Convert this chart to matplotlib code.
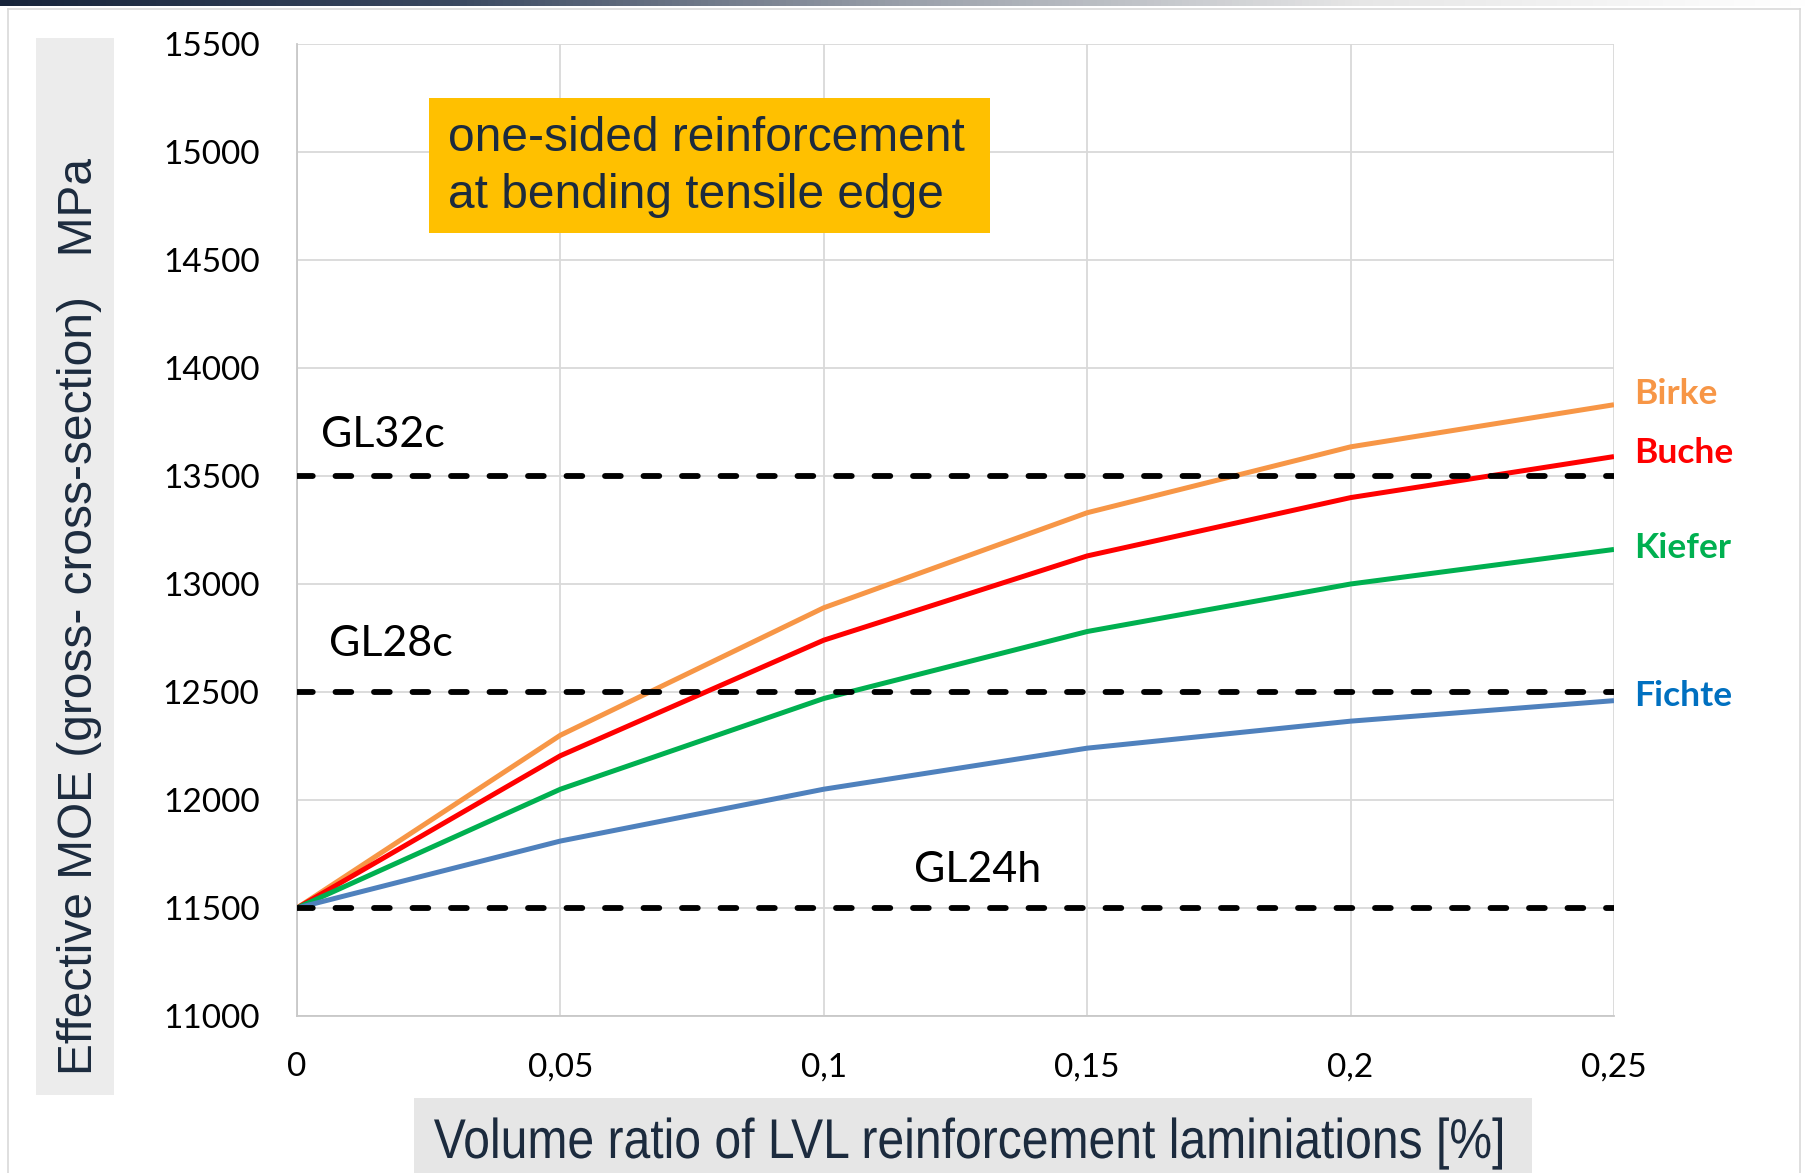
import numpy as np
from matplotlib import pyplot as plt
from matplotlib.colors import LinearSegmentedColormap
from matplotlib.font_manager import FontProperties
from matplotlib.lines import Line2D
from matplotlib.patches import PathPatch, Rectangle
from matplotlib.textpath import TextPath
from matplotlib.transforms import Affine2D

ratio = [0, 0.05, 0.1, 0.15, 0.2, 0.25]
birke = [11500, 12300, 12890, 13330, 13635, 13830]
buche = [11500, 12205, 12740, 13130, 13400, 13590]
kiefer = [11500, 12050, 12470, 12780, 13000, 13160]
fichte = [11500, 11810, 12050, 12240, 12365, 12460]
species = ["Birke", "Buche", "Kiefer", "Fichte"]
label_y = [13880, 13605, 13165, 12480]

grades = ["GL32c", "GL28c", "GL24h"]
grade_moe = [13500, 12500, 11500]
grade_label_pos = [(0.0045, 13690), (0.006, 12720), (0.1172, 11675)]

xticks = [0, 0.05, 0.1, 0.15, 0.2, 0.25]
xticklabels = ["0", "0,05", "0,1", "0,15", "0,2", "0,25"]
yticks = list(range(11000, 15501, 500))

line_colors = ["#F79646", "#FF0000", "#00B050", "#4F81BD"]
text_colors = ["#F79646", "#FF0000", "#00B050", "#0070C0"]
title_color = "#1c2b3e"

W, H = 1812, 1173
fig = plt.figure(figsize=(W / 100, H / 100), dpi=100)
px = Affine2D().scale(1 / W, 1 / H) + fig.transFigure  # pixel -> figure

# top gradient bar and thin frame
bar = fig.add_axes([0, 1 - 6 / H, 1, 6 / H])
cmap = LinearSegmentedColormap.from_list(
    "hdr", ["#17243a", "#3a4860", "#9aa0aa", "#e6e6e6", "#ffffff"])
bar.imshow(np.linspace(0, 1, 512)[None, :], aspect="auto", cmap=cmap)
bar.axis("off")
for xs, ys in [([8, 8], [0, H - 9]), ([1800, 1800], [0, H - 9]),
               ([8, 1800], [H - 9, H - 9])]:
    fig.add_artist(Line2D(xs, ys, color="#d9d9d9", lw=1.2, transform=px))

# grey title boxes
fig.add_artist(Rectangle((36, H - 1095), 78, 1057, color="#ececec", lw=0,
                         transform=px))
fig.add_artist(Rectangle((414, 0), 1118, 75, color="#e6e6e6", lw=0,
                         transform=px))

# y title
fig.text(92 / W, 1 - 1075 / H, "Effective MOE (gross- cross-section)   MPa",
         rotation=90, rotation_mode="anchor", ha="left", va="baseline",
         fontsize=34.5, family="Liberation Sans", color=title_color)

# x title, slightly condensed like the original
xt = TextPath((0, 0), "Volume ratio of LVL reinforcement laminiations [%]",
              size=56, prop=FontProperties(family="Liberation Sans"))
ext = xt.get_extents()
sx = 1068 / ext.width
fig.add_artist(PathPatch(
    xt, fc=title_color, ec="none",
    transform=Affine2D().translate(-ext.x0, 0).scale(sx, 1)
    .translate(434, H - 1158) + px))

ax = fig.add_axes([297 / W, 1 - 1016 / H, 1317 / W, 972 / H])
for vals, c in zip([birke, buche, kiefer, fichte], line_colors):
    ax.plot(ratio, vals, color=c, lw=3.6, solid_capstyle="butt", zorder=3)

for g, m, (gx, gy) in zip(grades, grade_moe, grade_label_pos):
    ax.axhline(m, color="black", lw=4.2, ls=(0, (2.7, 3.9)),
               dash_capstyle="round", zorder=4)
    ax.text(gx, gy, g, fontsize=31, family="Lato", va="center", ha="left")

for s, y, c in zip(species, label_y, text_colors):
    ax.text(0.2538, y, s, color=c, fontsize=25.5, family="Lato",
            fontweight="bold", va="center", ha="left", clip_on=False)

# orange note box
ax.add_patch(Rectangle((0.1002, 0.8056), 0.426, 0.1388, transform=ax.transAxes,
                       fc="#FFC000", ec="none", zorder=5))
ax.text(0.0287, 14930, "one-sided reinforcement\nat bending tensile edge",
        fontsize=34.5, family="Liberation Sans", color=title_color,
        va="center", ha="left", linespacing=1.33, zorder=6)

ax.set_xlim(0, 0.25)
ax.set_ylim(11000, 15500)
ax.set_xticks(xticks)
ax.set_xticklabels(xticklabels)
ax.set_yticks(yticks)
ax.tick_params(length=0, labelsize=24, pad=27)
for lab in ax.get_xticklabels() + ax.get_yticklabels():
    lab.set_family("Lato")
ax.tick_params(axis="x", pad=26)
ax.grid(True, color="#d9d9d9", lw=1.3)
ax.set_axisbelow(True)
for side in ["top", "right"]:
    ax.spines[side].set_visible(False)
for side in ["left", "bottom"]:
    ax.spines[side].set_color("#c8c8c8")
    ax.spines[side].set_linewidth(1.3)

plt.savefig("out.png", dpi=100)
